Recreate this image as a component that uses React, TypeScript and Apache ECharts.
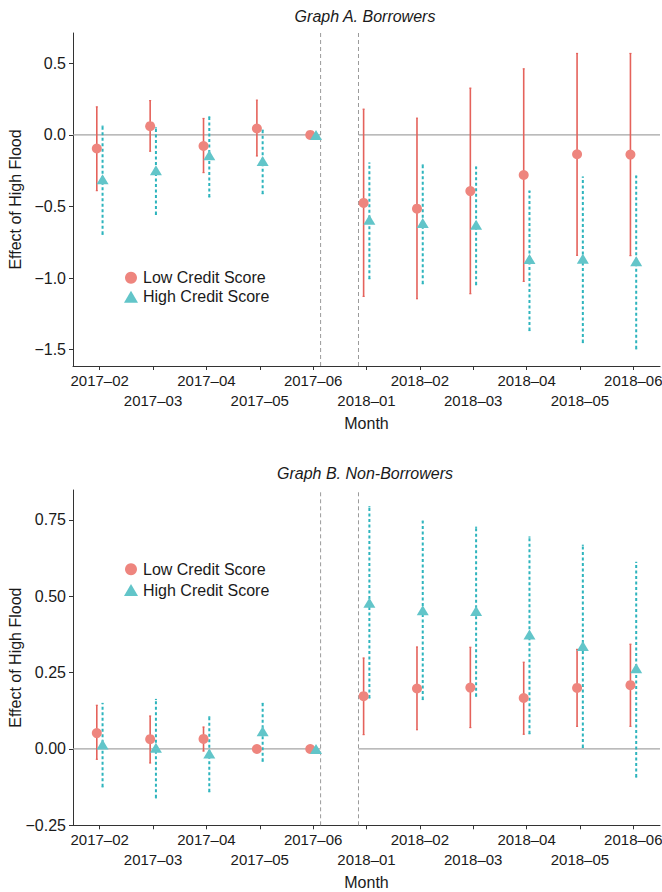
import React, { useEffect, useRef } from "react";
import * as echarts from "echarts";

const months = ["2017–02", "2017–03", "2017–04", "2017–05", "2017–06", "2018–01", "2018–02", "2018–03", "2018–04", "2018–05", "2018–06"];

// Graph A. Borrowers
const lowA = [-0.095, 0.061, -0.077, 0.045, 0, -0.475, -0.515, -0.392, -0.28, -0.135, -0.137];
const lowALo = [-0.389, -0.114, -0.263, -0.147, null, -1.128, -1.144, -1.109, -1.023, -0.841, -0.843];
const lowAHi = [0.196, 0.24, 0.115, 0.243, null, 0.18, 0.117, 0.327, 0.462, 0.569, 0.569];
const highA = [-0.31, -0.247, -0.142, -0.182, 0, -0.592, -0.615, -0.627, -0.867, -0.864, -0.883];
const highALo = [-0.694, -0.555, -0.433, -0.41, null, -1.004, -1.039, -1.046, -1.366, -1.45, -1.494];
const highAHi = [0.061, 0.049, 0.126, 0.033, null, -0.196, -0.21, -0.224, -0.392, -0.294, -0.287];
const ticksA = [-1.5, -1.0, -0.5, 0, 0.5];

// Graph B. Non-Borrowers
const lowB = [0.052, 0.032, 0.033, 0.0, 0, 0.173, 0.198, 0.201, 0.167, 0.2, 0.209];
const lowBLo = [-0.034, -0.046, -0.007, null, null, 0.047, 0.063, 0.07, 0.048, 0.074, 0.074];
const lowBHi = [0.143, 0.108, 0.072, null, null, 0.298, 0.334, 0.333, 0.284, 0.326, 0.343];
const highB = [0.015, 0.004, -0.015, 0.058, 0, 0.479, 0.454, 0.452, 0.375, 0.337, 0.264];
const highBLo = [-0.124, -0.16, -0.14, -0.04, null, 0.167, 0.162, 0.173, 0.05, 0.005, -0.092];
const highBHi = [0.149, 0.162, 0.105, 0.149, null, 0.793, 0.746, 0.726, 0.694, 0.667, 0.611];
const ticksB = [-0.25, 0, 0.25, 0.5, 0.75];

// event-window markers (between 2017-06 and 2018-01)
const gapStart = 4.14;
const gapEnd = 4.85;

const FONT = "'Liberation Sans', Arial, Helvetica, sans-serif";
const RED_LINE = "#E5625B";
const RED_PT = "#EE857E";
const TEAL_LINE = "#2DB4BD";
const TEAL_PT = "#62C5C9";
const DODGE = 0.054;

const idx = months.map((_, i) => i);
const evenIdx = idx.filter((i) => i % 2 === 0);
const oddIdx = idx.filter((i) => i % 2 === 1);

function fmtMinus(v: number, d: number) {
  const s = Math.abs(v).toFixed(d);
  return v < -1e-9 ? "−" + s : s;
}

export default function App() {
  const ref = useRef<HTMLDivElement>(null);
  useEffect(() => {
    if (!ref.current) return;
    const chart = echarts.init(ref.current, null, { renderer: "svg" });

    const ranges = [
      { min: -1.614, max: 0.712 },
      { min: -0.25, max: 0.848 },
    ];

    const labelStyle = {
      fontSize: 15,
      fontFamily: FONT,
      color: "#1a1a1a",
      showMinLabel: true,
      showMaxLabel: true,
      hideOverlap: false,
      formatter: (v: number) => months[Math.round(v)],
    };

    const xAxis: any[] = [];
    [0, 1].forEach((g) => {
      // primary axis: line, all ticks, first label row
      xAxis.push({
        gridIndex: g,
        type: "value",
        position: "bottom",
        offset: 0,
        min: -0.5,
        max: 10.5,
        splitLine: { show: false },
        axisLine: { show: true, onZero: false, lineStyle: { color: "#333", width: 1 } },
        axisTick: { show: true, customValues: idx, length: 4, lineStyle: { color: "#333" } },
        axisLabel: { ...labelStyle, customValues: evenIdx, margin: 7 },
        name: "Month",
        nameLocation: "middle",
        nameGap: 49,
        nameMoveOverlap: false,
        nameTextStyle: { fontSize: 16, fontFamily: FONT, color: "#1a1a1a" },
      });
      // secondary axis: second label row
      xAxis.push({
        gridIndex: g,
        type: "value",
        position: "bottom",
        offset: 0,
        min: -0.5,
        max: 10.5,
        splitLine: { show: false },
        axisLine: { show: false, onZero: false },
        axisTick: { show: false },
        axisLabel: { ...labelStyle, customValues: oddIdx, margin: 26.5 },
      });
    });

    const yAxis = [0, 1].map((g) => ({
      gridIndex: g,
      type: "value",
      min: ranges[g].min,
      max: ranges[g].max,
      splitLine: { show: false },
      axisLine: { show: true, onZero: false, lineStyle: { color: "#333", width: 1 } },
      axisTick: { show: true, customValues: g === 0 ? ticksA : ticksB, length: 4, lineStyle: { color: "#333" } },
      axisLabel: {
        customValues: g === 0 ? ticksA : ticksB,
        showMinLabel: true,
        showMaxLabel: true,
        formatter: (v: number) => fmtMinus(v, g === 0 ? 1 : 2),
        fontSize: 16,
        fontFamily: FONT,
        color: "#1a1a1a",
        margin: 7,
      },
      name: "Effect of High Flood",
      nameLocation: "middle",
      nameRotate: 90,
      nameGap: 50,
      nameMoveOverlap: false,
      nameTextStyle: { fontSize: 16, fontFamily: FONT, color: "#1a1a1a" },
    }));

    const errItems = (vals: (number | null)[], lo: (number | null)[], hi: (number | null)[], off: number) =>
      vals
        .map((_, i) => (lo[i] == null || hi[i] == null ? null : [i + off, lo[i], hi[i]]))
        .filter((d) => d !== null);

    const errSeries = (g: number, data: any[], color: string, dashed: boolean, lw: number) => ({
      type: "custom",
      name: dashed ? "ci-high-" + g : "ci-low-" + g,
      xAxisIndex: g * 2,
      yAxisIndex: g,
      z: 3,
      silent: true,
      data,
      renderItem: (params: any, api: any) => {
        const x = api.value(0);
        const p1 = api.coord([x, api.value(1)]);
        const p2 = api.coord([x, api.value(2)]);
        const st: any = { stroke: color, lineWidth: lw };
        if (dashed) st.lineDash = [3, 2.5];
        return {
          type: "group",
          children: [
            { type: "line", shape: { x1: p1[0], y1: p1[1], x2: p2[0], y2: p2[1] }, style: st },
            { type: "line", shape: { x1: p1[0] - 1, y1: p1[1], x2: p1[0] + 1, y2: p1[1] }, style: { stroke: color, lineWidth: 1.2 } },
            { type: "line", shape: { x1: p2[0] - 1, y1: p2[1], x2: p2[0] + 1, y2: p2[1] }, style: { stroke: color, lineWidth: 1.2 } },
          ],
        };
      },
    });

    const refSeries = (g: number) => ({
      type: "custom",
      name: "ref-" + g,
      xAxisIndex: g * 2,
      yAxisIndex: g,
      z: 1,
      silent: true,
      data: [
        [-0.5, 0, gapStart, 0, 0],
        [gapEnd, 0, 10.5, 0, 0],
        [gapStart, ranges[g].min, gapStart, ranges[g].max, 1],
        [gapEnd, ranges[g].min, gapEnd, ranges[g].max, 1],
      ],
      renderItem: (params: any, api: any) => {
        const p1 = api.coord([api.value(0), api.value(1)]);
        const p2 = api.coord([api.value(2), api.value(3)]);
        const dashed = api.value(4) === 1;
        return {
          type: "line",
          shape: { x1: p1[0], y1: p1[1], x2: p2[0], y2: p2[1] },
          style: dashed
            ? { stroke: "#9a9a9a", lineWidth: 1, lineDash: [4, 3] }
            : { stroke: "#a4a4a4", lineWidth: 1.2 },
        };
      },
    });

    const ptSeries = (g: number, vals: number[], off: number, low: boolean) => ({
      type: "scatter",
      name: low ? "Low Credit Score" : "High Credit Score",
      xAxisIndex: g * 2,
      yAxisIndex: g,
      z: 4,
      symbol: low ? "circle" : "triangle",
      symbolSize: low ? 10 : [12, 10],
      itemStyle: { color: low ? RED_PT : TEAL_PT, opacity: 1 },
      data: vals.map((v, i) => [i + off, v]),
    });

    const legendBase = {
      data: ["Low Credit Score", "High Credit Score"],
      orient: "vertical",
      left: 119,
      itemWidth: 14,
      itemHeight: 12,
      textStyle: { fontSize: 16, fontFamily: FONT, color: "#1a1a1a", lineHeight: 16 },
      selectedMode: false,
    };

    const option: any = {
      animation: false,
      grid: [
        { left: 73, right: 2, top: 33, height: 333, outerBoundsMode: "none" },
        { left: 73, right: 2, top: 490, height: 335.3, outerBoundsMode: "none" },
      ],
      xAxis,
      yAxis,
      legend: [
        { ...legendBase, top: 264.7, itemGap: 3 },
        { ...legendBase, top: 556.3, itemGap: 4.7 },
      ],
      graphic: [
        {
          type: "text",
          x: 365,
          y: 16,
          style: { text: "Graph A. Borrowers", font: "italic 16px " + FONT, fill: "#1a1a1a", align: "center", verticalAlign: "middle" },
        },
        {
          type: "text",
          x: 365,
          y: 473,
          style: { text: "Graph B. Non-Borrowers", font: "italic 16px " + FONT, fill: "#1a1a1a", align: "center", verticalAlign: "middle" },
        },
      ],
      series: [
        refSeries(0),
        refSeries(1),
        errSeries(0, errItems(lowA, lowALo, lowAHi, -DODGE), RED_LINE, false, 1.6),
        errSeries(0, errItems(highA, highALo, highAHi, DODGE), TEAL_LINE, true, 2),
        errSeries(1, errItems(lowB, lowBLo, lowBHi, -DODGE), RED_LINE, false, 1.6),
        errSeries(1, errItems(highB, highBLo, highBHi, DODGE), TEAL_LINE, true, 2),
        ptSeries(0, lowA, -DODGE, true),
        ptSeries(0, highA, DODGE, false),
        ptSeries(1, lowB, -DODGE, true),
        ptSeries(1, highB, DODGE, false),
      ],
    };
    chart.setOption(option);
    return () => chart.dispose();
  }, []);

  return (
    <div
      ref={ref}
      style={{ position: "absolute", left: 0, top: 0, width: 662, height: 892, background: "#fff" }}
    />
  );
}
